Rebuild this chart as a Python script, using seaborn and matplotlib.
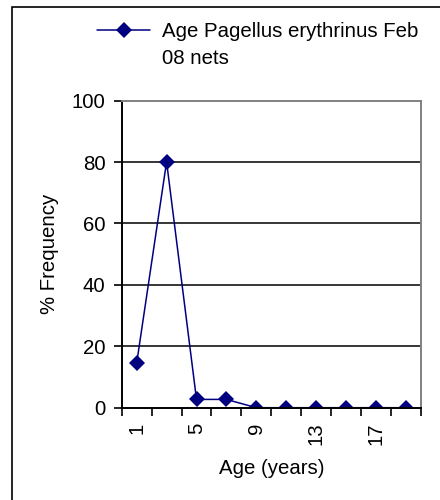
import numpy as np
import pandas as pd
import matplotlib
matplotlib.use("Agg")
import matplotlib.pyplot as plt
from matplotlib.patches import Rectangle
import seaborn as sns

# Age classes (years) and percentage frequency
ages = ["1", "3", "5", "7", "9", "11", "13", "15", "17", "19"]
freq = [14.5, 80.1, 2.7, 2.7, 0, 0, 0, 0, 0, 0]
shown_labels = ["1", "", "5", "", "9", "", "13", "", "17", ""]
series_name = "Age Pagellus erythrinus Feb"
series_name_cont = "08 nets"
y_ticks = [0, 20, 40, 60, 80, 100]

sns.set_style("white")
plt.rcParams["font.family"] = ["Liberation Sans", "DejaVu Sans"]
plt.rcParams["text.color"] = "black"
plt.rcParams["axes.labelcolor"] = "black"
plt.rcParams["xtick.color"] = "black"
plt.rcParams["ytick.color"] = "black"
FS = 14.7
NAVY = "#000080"

df = pd.DataFrame({"Age": pd.Categorical(ages, categories=ages, ordered=True), "Freq": freq})

fig = plt.figure(figsize=(4.4, 5.0), dpi=100)
ax = fig.add_axes([0.2766, 0.1846, 0.680, 0.614])

sns.pointplot(data=df, x="Age", y="Freq", color=NAVY, markers="D", linestyles="-",
              errorbar=None, ax=ax, markersize=8, linewidth=1.1, markeredgewidth=0)
ax.lines[0].set_label(series_name)

ax.set_xlim(-0.5, len(ages) - 0.5)
ax.set_ylim(0, 100)
ax.set_yticks(y_ticks)
ax.set_yticklabels([str(v) for v in y_ticks], fontsize=FS)

# ticks at category boundaries, labels at category centres
ax.set_xticks(np.arange(-0.5, len(ages), 1.0))
ax.set_xticklabels([])
ax.set_xticks(np.arange(len(ages)), minor=True)
ax.set_xticklabels(shown_labels, minor=True, rotation=90, fontsize=FS)
ax.tick_params(axis="x", which="major", direction="out", length=5.8, width=1.2, color="black", bottom=True)
ax.tick_params(axis="x", which="minor", length=0, pad=10.5)
ax.tick_params(axis="y", direction="out", length=5.8, width=1.2, color="black", left=True, pad=5.8)

for y in y_ticks[1:-1]:
    ax.axhline(y, color="black", linewidth=1.1, zorder=0)

for side in ["left", "bottom"]:
    ax.spines[side].set_color("black")
    ax.spines[side].set_linewidth(1.4)
for side in ["top", "right"]:
    ax.spines[side].set_color("#808080")
    ax.spines[side].set_linewidth(1.4)
    ax.spines[side].set_visible(True)

ax.set_xlabel("Age (years)", fontsize=FS, labelpad=10)
ax.set_ylabel("% Frequency", fontsize=FS, labelpad=9)

leg = fig.legend(handles=[ax.lines[0]], loc="upper left", bbox_to_anchor=(97 / 440, 1 - 22 / 500),
                 frameon=False, fontsize=FS, handlelength=2.6, handletextpad=0.6,
                 borderpad=0, borderaxespad=0, numpoints=1)

# second line of the legend entry, aligned under the first
fig.canvas.draw()
tb = leg.get_texts()[0].get_window_extent()
fig.text(tb.x0 / 440, (tb.y0 - 27) / 500, series_name_cont, fontsize=FS, ha="left", va="bottom")

# outer chart frame
fig.patches.append(Rectangle((12 / 440, -0.2), 2.0, 1.2 - 6.5 / 500, transform=fig.transFigure,
                             fill=False, edgecolor="black", linewidth=1.2))

fig.savefig("out.png", dpi=100)
